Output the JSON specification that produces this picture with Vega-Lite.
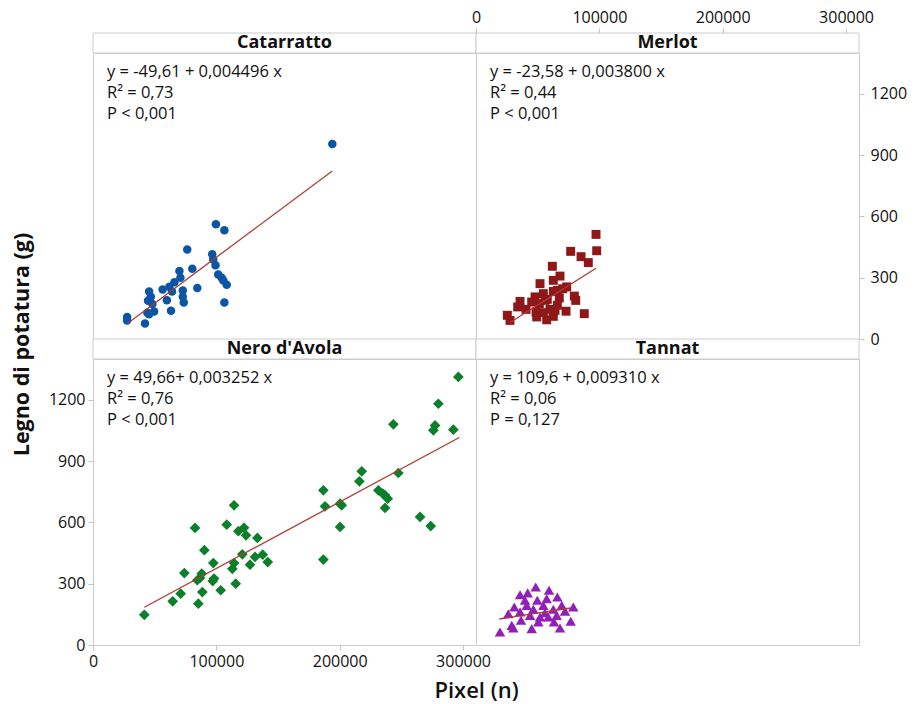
{
  "$schema": "https://vega.github.io/schema/vega-lite/v6.json",
  "padding": {"left": 10, "top": 8, "right": 4, "bottom": 4},
  "background": "white",
  "config": {
    "font": "Open Sans",
    "view": {"stroke": "#cccccc", "strokeWidth": 1},
    "axis": {"domain": false, "grid": false, "tickColor": "#c4c4c4", "tickSize": 5, "labelFontSize": 16, "labelColor": "#111111", "labelFont": "Open Sans", "titleFont": "Open Sans", "labelFlush": false, "labelPadding": 3, "titleColor": "#111111"}
  },
  "datasets": {
    "pts": [
      {"v":"Catarratto","x":194000,"y":955},{"v":"Catarratto","x":99650,"y":562},{"v":"Catarratto","x":106500,"y":532},{"v":"Catarratto","x":76400,"y":438},{"v":"Catarratto","x":96650,"y":415},{"v":"Catarratto","x":97450,"y":389},{"v":"Catarratto","x":99300,"y":361},{"v":"Catarratto","x":80500,"y":344},{"v":"Catarratto","x":70050,"y":333},{"v":"Catarratto","x":70850,"y":300},{"v":"Catarratto","x":101500,"y":316},{"v":"Catarratto","x":104300,"y":300},{"v":"Catarratto","x":108400,"y":265},{"v":"Catarratto","x":105650,"y":286},{"v":"Catarratto","x":66000,"y":278},{"v":"Catarratto","x":61900,"y":256},{"v":"Catarratto","x":84550,"y":250},{"v":"Catarratto","x":56450,"y":242},{"v":"Catarratto","x":72800,"y":237},{"v":"Catarratto","x":64050,"y":232},{"v":"Catarratto","x":45500,"y":233},{"v":"Catarratto","x":72800,"y":207},{"v":"Catarratto","x":46850,"y":207},{"v":"Catarratto","x":59900,"y":190},{"v":"Catarratto","x":44600,"y":187},{"v":"Catarratto","x":73600,"y":179},{"v":"Catarratto","x":106500,"y":179},{"v":"Catarratto","x":48150,"y":171},{"v":"Catarratto","x":63250,"y":138},{"v":"Catarratto","x":49550,"y":135},{"v":"Catarratto","x":44100,"y":129},{"v":"Catarratto","x":45500,"y":121},{"v":"Catarratto","x":27650,"y":108},{"v":"Catarratto","x":27650,"y":91},{"v":"Catarratto","x":42150,"y":76},
      {"v":"Merlot","x":97300,"y":512},{"v":"Merlot","x":97850,"y":432},{"v":"Merlot","x":76750,"y":429},{"v":"Merlot","x":85150,"y":403},{"v":"Merlot","x":91050,"y":374},{"v":"Merlot","x":61900,"y":356},{"v":"Merlot","x":68100,"y":308},{"v":"Merlot","x":62700,"y":287},{"v":"Merlot","x":51900,"y":271},{"v":"Merlot","x":73500,"y":255},{"v":"Merlot","x":70300,"y":246},{"v":"Merlot","x":65950,"y":238},{"v":"Merlot","x":62700,"y":233},{"v":"Merlot","x":54600,"y":222},{"v":"Merlot","x":47850,"y":206},{"v":"Merlot","x":79700,"y":210},{"v":"Merlot","x":80850,"y":189},{"v":"Merlot","x":67550,"y":201},{"v":"Merlot","x":57800,"y":194},{"v":"Merlot","x":35700,"y":184},{"v":"Merlot","x":45150,"y":181},{"v":"Merlot","x":51350,"y":173},{"v":"Merlot","x":33800,"y":157},{"v":"Merlot","x":65950,"y":165},{"v":"Merlot","x":40550,"y":145},{"v":"Merlot","x":60000,"y":145},{"v":"Merlot","x":48650,"y":132},{"v":"Merlot","x":54600,"y":129},{"v":"Merlot","x":73000,"y":136},{"v":"Merlot","x":87800,"y":124},{"v":"Merlot","x":62700,"y":111},{"v":"Merlot","x":49200,"y":108},{"v":"Merlot","x":57300,"y":94},{"v":"Merlot","x":25400,"y":116},{"v":"Merlot","x":27550,"y":91},{"v":"Merlot","x":55950,"y":189},{"v":"Merlot","x":64050,"y":140},
      {"v":"Nero d'Avola","x":296200,"y":1312},{"v":"Nero d'Avola","x":280000,"y":1181},{"v":"Nero d'Avola","x":243500,"y":1080},{"v":"Nero d'Avola","x":277300,"y":1075},{"v":"Nero d'Avola","x":275950,"y":1051},{"v":"Nero d'Avola","x":292150,"y":1054},{"v":"Nero d'Avola","x":217850,"y":850},{"v":"Nero d'Avola","x":247550,"y":842},{"v":"Nero d'Avola","x":215950,"y":801},{"v":"Nero d'Avola","x":186750,"y":757},{"v":"Nero d'Avola","x":231350,"y":757},{"v":"Nero d'Avola","x":234900,"y":741},{"v":"Nero d'Avola","x":236750,"y":733},{"v":"Nero d'Avola","x":238950,"y":716},{"v":"Nero d'Avola","x":236750,"y":671},{"v":"Nero d'Avola","x":188100,"y":679},{"v":"Nero d'Avola","x":200300,"y":692},{"v":"Nero d'Avola","x":201650,"y":684},{"v":"Nero d'Avola","x":200300,"y":578},{"v":"Nero d'Avola","x":265150,"y":627},{"v":"Nero d'Avola","x":273800,"y":582},{"v":"Nero d'Avola","x":186750,"y":418},{"v":"Nero d'Avola","x":114350,"y":684},{"v":"Nero d'Avola","x":82700,"y":573},{"v":"Nero d'Avola","x":108400,"y":589},{"v":"Nero d'Avola","x":122450,"y":574},{"v":"Nero d'Avola","x":117850,"y":557},{"v":"Nero d'Avola","x":124050,"y":537},{"v":"Nero d'Avola","x":133250,"y":524},{"v":"Nero d'Avola","x":90250,"y":464},{"v":"Nero d'Avola","x":121050,"y":444},{"v":"Nero d'Avola","x":131350,"y":431},{"v":"Nero d'Avola","x":137600,"y":442},{"v":"Nero d'Avola","x":141650,"y":406},{"v":"Nero d'Avola","x":97550,"y":401},{"v":"Nero d'Avola","x":114350,"y":401},{"v":"Nero d'Avola","x":127300,"y":393},{"v":"Nero d'Avola","x":112950,"y":373},{"v":"Nero d'Avola","x":74050,"y":352},{"v":"Nero d'Avola","x":88150,"y":349},{"v":"Nero d'Avola","x":86750,"y":328},{"v":"Nero d'Avola","x":84550,"y":317},{"v":"Nero d'Avola","x":98100,"y":325},{"v":"Nero d'Avola","x":97050,"y":313},{"v":"Nero d'Avola","x":115700,"y":300},{"v":"Nero d'Avola","x":103550,"y":268},{"v":"Nero d'Avola","x":71100,"y":251},{"v":"Nero d'Avola","x":88650,"y":259},{"v":"Nero d'Avola","x":64600,"y":214},{"v":"Nero d'Avola","x":85400,"y":202},{"v":"Nero d'Avola","x":41600,"y":148},
      {"v":"Tannat","x":48400,"y":284},{"v":"Tannat","x":59200,"y":268},{"v":"Tannat","x":41900,"y":255},{"v":"Tannat","x":35700,"y":246},{"v":"Tannat","x":65950,"y":235},{"v":"Tannat","x":57300,"y":227},{"v":"Tannat","x":49700,"y":219},{"v":"Tannat","x":31050,"y":186},{"v":"Tannat","x":41100,"y":194},{"v":"Tannat","x":54600,"y":194},{"v":"Tannat","x":69500,"y":194},{"v":"Tannat","x":78900,"y":186},{"v":"Tannat","x":46500,"y":175},{"v":"Tannat","x":62700,"y":175},{"v":"Tannat","x":26200,"y":153},{"v":"Tannat","x":35700,"y":162},{"v":"Tannat","x":55950,"y":158},{"v":"Tannat","x":72150,"y":165},{"v":"Tannat","x":43800,"y":145},{"v":"Tannat","x":65400,"y":145},{"v":"Tannat","x":36500,"y":121},{"v":"Tannat","x":50500,"y":113},{"v":"Tannat","x":63250,"y":113},{"v":"Tannat","x":76800,"y":116},{"v":"Tannat","x":28950,"y":96},{"v":"Tannat","x":45150,"y":80},{"v":"Tannat","x":68100,"y":83},{"v":"Tannat","x":19450,"y":64},{"v":"Tannat","x":30250,"y":83},{"v":"Tannat","x":58650,"y":137},{"v":"Tannat","x":51900,"y":137},{"v":"Tannat","x":39700,"y":219}
    ],
    "lines": [
      {"v":"Catarratto","x":28200,"y":77.2},{"v":"Catarratto","x":194000,"y":822.6},
      {"v":"Merlot","x":27550,"y":81.1},{"v":"Merlot","x":97300,"y":346.2},
      {"v":"Nero d'Avola","x":41600,"y":184.9},{"v":"Nero d'Avola","x":297000,"y":1015.6},
      {"v":"Tannat","x":18900,"y":127.2},{"v":"Tannat","x":76800,"y":181.1}
    ],
    "ann": [
      {"v":"Catarratto","t":"y = -49,61 + 0,004496 x\nR² = 0,73\nP < 0,001"},
      {"v":"Merlot","t":"y = -23,58 + 0,003800 x\nR² = 0,44\nP < 0,001"},
      {"v":"Nero d'Avola","t":"y = 49,66+ 0,003252 x\nR² = 0,76\nP < 0,001"},
      {"v":"Tannat","t":"y = 109,6 + 0,009310 x\nR² = 0,06\nP = 0,127"}
    ]
  },
  "columns": 2,
  "spacing": 0,
  "bounds": "flush",
  "align": "each",
  "concat": [
    {"width": 383, "height": 20, "data": {"values": [{"s": "Catarratto"}]}, "layer": [
      {"mark": {"type": "rect", "fill": "white", "stroke": "#cccccc", "strokeWidth": 1}},
      {"mark": {"type": "text", "fontWeight": "bold", "fontSize": 18, "color": "#111111"}, "encoding": {"text": {"field": "s"}}}
    ]},
    {"width": 383, "height": 20, "data": {"values": [{"s": "Merlot"}]}, "layer": [
      {"mark": {"type": "rect", "fill": "white", "stroke": "#cccccc", "strokeWidth": 1}},
      {"mark": {"type": "text", "fontWeight": "bold", "fontSize": 18, "color": "#111111"}, "encoding": {"text": {"field": "s"}}}
    ]},
    {
      "width": 383, "height": 286,
      "layer": [
        {"data": {"name": "pts"}, "transform": [{"filter": "datum.v === 'Catarratto'"}], "mark": {"type": "point", "shape": "circle", "filled": true, "size": 72, "color": "#0b55a4", "opacity": 1},
         "encoding": {
          "x": {"field": "x", "type": "quantitative", "scale": {"domain": [0, 310500], "nice": false, "zero": false}, "axis": null},
          "y": {"field": "y", "type": "quantitative", "scale": {"domain": [0, 1400], "nice": false, "zero": false}, "axis": null}}},
        {"data": {"name": "lines"}, "transform": [{"filter": "datum.v === 'Catarratto'"}], "mark": {"type": "line", "color": "#b03a36", "strokeWidth": 1.3},
         "encoding": {
          "x": {"field": "x", "type": "quantitative", "axis": null},
          "y": {"field": "y", "type": "quantitative", "axis": null}}},
        {"data": {"name": "ann"}, "transform": [{"filter": "datum.v === 'Catarratto'"}], "mark": {"type": "text", "align": "left", "baseline": "top", "fontSize": 16.5, "lineHeight": 21, "lineBreak": "\n", "color": "#111111"}, "encoding": {"x": {"datum": 11350, "type": "quantitative"}, "y": {"datum": 1344, "type": "quantitative"}, "text": {"field": "t"}}}
      ]
    },
    {
      "width": 383, "height": 286,
      "layer": [
        {"data": {"name": "pts"}, "transform": [{"filter": "datum.v === 'Merlot'"}], "mark": {"type": "point", "shape": "square", "filled": true, "size": 80, "color": "#8e1717", "opacity": 1},
         "encoding": {
          "x": {"field": "x", "type": "quantitative", "scale": {"domain": [0, 310500], "nice": false, "zero": false}, "axis": {"orient": "top", "offset": 20, "values": [0, 100000, 200000, 300000], "format": "d", "title": null}},
          "y": {"field": "y", "type": "quantitative", "scale": {"domain": [0, 1400], "nice": false, "zero": false}, "axis": {"orient": "right", "values": [0, 300, 600, 900, 1200], "format": "d", "title": null, "labelPadding": 6}}}},
        {"data": {"name": "lines"}, "transform": [{"filter": "datum.v === 'Merlot'"}], "mark": {"type": "line", "color": "#b03a36", "strokeWidth": 1.3},
         "encoding": {
          "x": {"field": "x", "type": "quantitative", "axis": {"orient": "top", "offset": 20, "values": [0, 100000, 200000, 300000], "format": "d", "title": null}},
          "y": {"field": "y", "type": "quantitative", "axis": {"orient": "right", "values": [0, 300, 600, 900, 1200], "format": "d", "title": null, "labelPadding": 6}}}},
        {"data": {"name": "ann"}, "transform": [{"filter": "datum.v === 'Merlot'"}], "mark": {"type": "text", "align": "left", "baseline": "top", "fontSize": 16.5, "lineHeight": 21, "lineBreak": "\n", "color": "#111111"}, "encoding": {"x": {"datum": 11350, "type": "quantitative"}, "y": {"datum": 1344, "type": "quantitative"}, "text": {"field": "t"}}}
      ]
    },
    {"width": 383, "height": 20, "data": {"values": [{"s": "Nero d'Avola"}]}, "layer": [
      {"mark": {"type": "rect", "fill": "white", "stroke": "#cccccc", "strokeWidth": 1}},
      {"mark": {"type": "text", "fontWeight": "bold", "fontSize": 18, "color": "#111111"}, "encoding": {"text": {"field": "s"}}}
    ]},
    {"width": 383, "height": 20, "data": {"values": [{"s": "Tannat"}]}, "layer": [
      {"mark": {"type": "rect", "fill": "white", "stroke": "#cccccc", "strokeWidth": 1}},
      {"mark": {"type": "text", "fontWeight": "bold", "fontSize": 18, "color": "#111111"}, "encoding": {"text": {"field": "s"}}}
    ]},
    {
      "width": 383, "height": 286,
      "layer": [
        {"data": {"name": "pts"}, "transform": [{"filter": "datum.v === \"Nero d'Avola\""}], "mark": {"type": "point", "shape": "diamond", "filled": true, "size": 115, "color": "#0b7f2a", "opacity": 1},
         "encoding": {
          "x": {"field": "x", "type": "quantitative", "scale": {"domain": [0, 310500], "nice": false, "zero": false}, "axis": {"orient": "bottom", "values": [0, 100000, 200000, 300000], "format": "d", "title": "Pixel (n)", "titleFontSize": 22, "titleFontWeight": 600, "titleX": 383, "titleY": 45, "titleBaseline": "middle", "titleAlign": "center"}},
          "y": {"field": "y", "type": "quantitative", "scale": {"domain": [0, 1400], "nice": false, "zero": false}, "axis": {"orient": "left", "values": [0, 300, 600, 900, 1200], "format": "d", "title": "Legno di potatura (g)", "titleFontSize": 21.5, "titleFontWeight": "bold", "titleAngle": 270, "titleX": -71, "titleY": -15, "titleBaseline": "middle", "titleAlign": "center"}}}},
        {"data": {"name": "lines"}, "transform": [{"filter": "datum.v === \"Nero d'Avola\""}], "mark": {"type": "line", "color": "#b03a36", "strokeWidth": 1.3},
         "encoding": {
          "x": {"field": "x", "type": "quantitative", "axis": {"orient": "bottom", "values": [0, 100000, 200000, 300000], "format": "d", "title": "Pixel (n)", "titleFontSize": 22, "titleFontWeight": 600, "titleX": 383, "titleY": 45, "titleBaseline": "middle", "titleAlign": "center"}},
          "y": {"field": "y", "type": "quantitative", "axis": {"orient": "left", "values": [0, 300, 600, 900, 1200], "format": "d", "title": "Legno di potatura (g)", "titleFontSize": 21.5, "titleFontWeight": "bold", "titleAngle": 270, "titleX": -71, "titleY": -15, "titleBaseline": "middle", "titleAlign": "center"}}}},
        {"data": {"name": "ann"}, "transform": [{"filter": "datum.v === \"Nero d'Avola\""}], "mark": {"type": "text", "align": "left", "baseline": "top", "fontSize": 16.5, "lineHeight": 21, "lineBreak": "\n", "color": "#111111"}, "encoding": {"x": {"datum": 11350, "type": "quantitative"}, "y": {"datum": 1344, "type": "quantitative"}, "text": {"field": "t"}}}
      ]
    },
    {
      "width": 383, "height": 286,
      "layer": [
        {"data": {"name": "pts"}, "transform": [{"filter": "datum.v === 'Tannat'"}], "mark": {"type": "point", "shape": "triangle-up", "filled": true, "size": 110, "color": "#9020b8", "opacity": 1},
         "encoding": {
          "x": {"field": "x", "type": "quantitative", "scale": {"domain": [0, 310500], "nice": false, "zero": false}, "axis": null},
          "y": {"field": "y", "type": "quantitative", "scale": {"domain": [0, 1400], "nice": false, "zero": false}, "axis": null}}},
        {"data": {"name": "lines"}, "transform": [{"filter": "datum.v === 'Tannat'"}], "mark": {"type": "line", "color": "#b03a36", "strokeWidth": 1.3},
         "encoding": {
          "x": {"field": "x", "type": "quantitative", "axis": null},
          "y": {"field": "y", "type": "quantitative", "axis": null}}},
        {"data": {"name": "ann"}, "transform": [{"filter": "datum.v === 'Tannat'"}], "mark": {"type": "text", "align": "left", "baseline": "top", "fontSize": 16.5, "lineHeight": 21, "lineBreak": "\n", "color": "#111111"}, "encoding": {"x": {"datum": 11350, "type": "quantitative"}, "y": {"datum": 1344, "type": "quantitative"}, "text": {"field": "t"}}}
      ]
    }
  ]
}
